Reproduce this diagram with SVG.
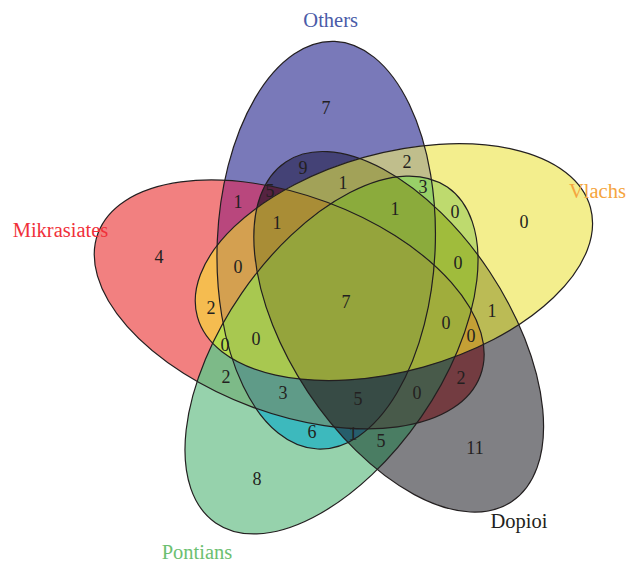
<svg xmlns="http://www.w3.org/2000/svg" xmlns:xlink="http://www.w3.org/1999/xlink" width="627" height="562" viewBox="0 0 627 562">
<style>
.n{font-family:"Liberation Serif","DejaVu Serif",serif;font-size:18px;fill:#231F20;text-anchor:middle}
.lab{font-family:"Liberation Serif","DejaVu Serif",serif;font-size:20.5px}
.ol{fill:none;stroke:#231F20;stroke-width:1.2}
</style>
<defs>
<ellipse id="eO" cx="0" cy="0" rx="204" ry="109" transform="translate(326.2,245.2) rotate(-87.6)"/>
<ellipse id="eV" cx="0" cy="0" rx="204" ry="109" transform="translate(393.9,262.1) rotate(-15.6)"/>
<ellipse id="eD" cx="0" cy="0" rx="204" ry="109" transform="translate(398.7,331.8) rotate(56.4)"/>
<ellipse id="eP" cx="0" cy="0" rx="204" ry="109" transform="translate(331.5,355) rotate(124.6)"/>
<ellipse id="eM" cx="0" cy="0" rx="204" ry="109" transform="translate(289.2,304.4) rotate(200.4)"/>
<clipPath id="cO"><use xlink:href="#eO"/></clipPath>
<clipPath id="cV"><use xlink:href="#eV"/></clipPath>
<clipPath id="cD"><use xlink:href="#eD"/></clipPath>
<clipPath id="cP"><use xlink:href="#eP"/></clipPath>
<clipPath id="cM"><use xlink:href="#eM"/></clipPath>
</defs>
<g id="regions">
<use xlink:href="#eO" fill="#7979B9"/>
<use xlink:href="#eV" fill="#F3EE8D"/>
<use xlink:href="#eD" fill="#808084"/>
<use xlink:href="#eP" fill="#96D2AC"/>
<use xlink:href="#eM" fill="#F28080"/>
<use xlink:href="#eO" clip-path="url(#cD)" fill="#444276"/>
<use xlink:href="#eO" clip-path="url(#cV)" fill="#C0BE8C"/>
<use xlink:href="#eO" clip-path="url(#cM)" fill="#B9477D"/>
<use xlink:href="#eV" clip-path="url(#cP)" fill="#BEDA6E"/>
<use xlink:href="#eV" clip-path="url(#cM)" fill="#F5BC50"/>
<use xlink:href="#eV" clip-path="url(#cD)" fill="#BBBB55"/>
<use xlink:href="#eP" clip-path="url(#cM)" fill="#7DBA88"/>
<use xlink:href="#eD" clip-path="url(#cM)" fill="#733C41"/>
<use xlink:href="#eO" clip-path="url(#cP)" fill="#3DB9BD"/>
<use xlink:href="#eD" clip-path="url(#cP)" fill="#4A7D63"/>
<g clip-path="url(#cM)"><use xlink:href="#eO" clip-path="url(#cD)" fill="#552341"/></g>
<g clip-path="url(#cD)"><use xlink:href="#eO" clip-path="url(#cV)" fill="#A2A258"/></g>
<g clip-path="url(#cP)"><use xlink:href="#eO" clip-path="url(#cV)" fill="#98D068"/></g>
<g clip-path="url(#cM)"><use xlink:href="#eO" clip-path="url(#cV)" fill="#D4A050"/></g>
<g clip-path="url(#cP)"><use xlink:href="#eV" clip-path="url(#cD)" fill="#A0BC3C"/></g>
<g clip-path="url(#cM)"><use xlink:href="#eV" clip-path="url(#cP)" fill="#B8DC50"/></g>
<g clip-path="url(#cM)"><use xlink:href="#eV" clip-path="url(#cD)" fill="#C4A035"/></g>
<g clip-path="url(#cM)"><use xlink:href="#eO" clip-path="url(#cP)" fill="#5F9B88"/></g>
<g clip-path="url(#cM)"><use xlink:href="#eD" clip-path="url(#cP)" fill="#485A4A"/></g>
<g clip-path="url(#cP)"><use xlink:href="#eO" clip-path="url(#cD)" fill="#265E6C"/></g>
<g clip-path="url(#cM)"><g clip-path="url(#cD)"><use xlink:href="#eO" clip-path="url(#cV)" fill="#A98D36"/></g></g>
<g clip-path="url(#cP)"><g clip-path="url(#cD)"><use xlink:href="#eO" clip-path="url(#cV)" fill="#8BAB3C"/></g></g>
<g clip-path="url(#cM)"><g clip-path="url(#cP)"><use xlink:href="#eO" clip-path="url(#cV)" fill="#A8C850"/></g></g>
<g clip-path="url(#cM)"><g clip-path="url(#cP)"><use xlink:href="#eV" clip-path="url(#cD)" fill="#A0AD3C"/></g></g>
<g clip-path="url(#cM)"><g clip-path="url(#cP)"><use xlink:href="#eO" clip-path="url(#cD)" fill="#374B45"/></g></g>
<g clip-path="url(#cM)"><g clip-path="url(#cP)"><g clip-path="url(#cD)"><use xlink:href="#eO" clip-path="url(#cV)" fill="#95A43C"/></g></g></g>
</g>
<g id="set-others"><use xlink:href="#eO" class="ol"/><text class="lab" x="330.7" y="27" text-anchor="middle" fill="#4A5BA8">Others</text></g>
<g id="set-vlachs"><use xlink:href="#eV" class="ol"/><text class="lab" x="569" y="198" fill="#F5A540">Vlachs</text></g>
<g id="set-dopioi"><use xlink:href="#eD" class="ol"/><text class="lab" x="519" y="528" text-anchor="middle" fill="#231F20">Dopioi</text></g>
<g id="set-pontians"><use xlink:href="#eP" class="ol"/><text class="lab" x="197" y="559" text-anchor="middle" fill="#6CC070">Pontians</text></g>
<g id="set-mikrasiates"><use xlink:href="#eM" class="ol"/><text class="lab" x="60.5" y="237" text-anchor="middle" fill="#F0303A">Mikrasiates</text></g>
<g id="counts">
<text class="n" x="326" y="114">7</text>
<text class="n" x="303" y="174">9</text>
<text class="n" x="407" y="168">2</text>
<text class="n" x="238" y="208">1</text>
<text class="n" x="270" y="197">5</text>
<text class="n" x="343" y="189">1</text>
<text class="n" x="423" y="193">3</text>
<text class="n" x="277" y="229">1</text>
<text class="n" x="395" y="215">1</text>
<text class="n" x="455" y="218">0</text>
<text class="n" x="524" y="228">0</text>
<text class="n" x="159" y="263">4</text>
<text class="n" x="238" y="273">0</text>
<text class="n" x="458" y="269">0</text>
<text class="n" x="211" y="314">2</text>
<text class="n" x="346" y="308">7</text>
<text class="n" x="256" y="345">0</text>
<text class="n" x="446" y="329">0</text>
<text class="n" x="492" y="317">1</text>
<text class="n" x="225" y="351">0</text>
<text class="n" x="471" y="342">0</text>
<text class="n" x="226" y="383">2</text>
<text class="n" x="283" y="399">3</text>
<text class="n" x="358" y="405">5</text>
<text class="n" x="417" y="399">0</text>
<text class="n" x="461" y="384">2</text>
<text class="n" x="312" y="438">6</text>
<text class="n" x="353" y="440">1</text>
<text class="n" x="381" y="447">5</text>
<text class="n" x="475" y="454">11</text>
<text class="n" x="257" y="485">8</text>
</g>
</svg>
